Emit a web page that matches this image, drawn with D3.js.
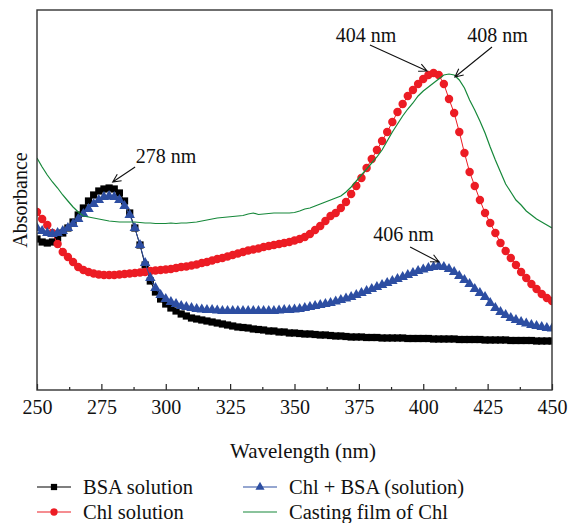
<!DOCTYPE html>
<html>
<head>
<meta charset="utf-8">
<script src="https://cdn.jsdelivr.net/npm/d3@7"></script>
<style>
  body { margin: 0; background: #fff; }
  text { font-family: "Liberation Serif", "DejaVu Serif", serif; fill: #111; }
</style>
</head>
<body>
<div id="chart"></div>
<script>
// wavelength grid, 2 nm steps
const wavelength = d3.range(250, 451, 2);

// absorbance (arbitrary units)
const bsa = [
  1.51, 1.48, 1.47, 1.48, 1.52, 1.57, 1.62, 1.68, 1.75, 1.82,
  1.89, 1.95, 1.99, 2.01, 2.02, 2.01, 1.97, 1.89, 1.77, 1.62,
  1.45, 1.25, 1.09, 0.98, 0.91, 0.86, 0.82, 0.79, 0.76, 0.74,
  0.72, 0.71, 0.70, 0.69, 0.68, 0.67, 0.66, 0.65, 0.64, 0.63,
  0.625, 0.62, 0.61, 0.605, 0.60, 0.59, 0.59, 0.58, 0.58, 0.57,
  0.57, 0.565, 0.56, 0.56, 0.555, 0.55, 0.55, 0.545, 0.54, 0.54,
  0.535, 0.53, 0.53, 0.53, 0.525, 0.525, 0.525, 0.52, 0.52, 0.52,
  0.52, 0.52, 0.515, 0.515, 0.515, 0.515, 0.515, 0.51, 0.51, 0.51,
  0.51, 0.51, 0.505, 0.505, 0.505, 0.505, 0.505, 0.50, 0.50, 0.50,
  0.50, 0.50, 0.495, 0.495, 0.495, 0.495, 0.495, 0.49, 0.49, 0.49,
  0.49
];
const chl = [
  1.78, 1.71, 1.65, 1.57, 1.46, 1.38, 1.33, 1.28, 1.23, 1.20,
  1.18, 1.165, 1.155, 1.15, 1.15, 1.15, 1.155, 1.16, 1.165, 1.17,
  1.175, 1.18, 1.19, 1.195, 1.20, 1.205, 1.21, 1.22, 1.23, 1.235,
  1.245, 1.255, 1.27, 1.28, 1.295, 1.31, 1.32, 1.335, 1.35, 1.365,
  1.38, 1.395, 1.405, 1.415, 1.43, 1.44, 1.45, 1.46, 1.47, 1.48,
  1.495, 1.51, 1.53, 1.56, 1.60, 1.64, 1.69, 1.74, 1.77, 1.82,
  1.88, 1.96, 2.04, 2.12, 2.22, 2.31, 2.40, 2.49, 2.58, 2.68,
  2.78, 2.86, 2.94, 3.00, 3.06, 3.11, 3.15, 3.17, 3.15, 3.06,
  2.91, 2.77, 2.58, 2.37, 2.18, 2.04, 1.90, 1.77, 1.67, 1.57,
  1.47, 1.39, 1.32, 1.25, 1.18, 1.12, 1.06, 1.01, 0.96, 0.92,
  0.89
];
const chlBsa = [
  1.62, 1.59, 1.57, 1.56, 1.57, 1.59, 1.62, 1.66, 1.71, 1.76,
  1.81, 1.86, 1.90, 1.93, 1.94, 1.93, 1.90, 1.84, 1.75, 1.62,
  1.45, 1.27, 1.12, 1.02, 0.95, 0.91, 0.88, 0.86, 0.84, 0.83,
  0.82, 0.81, 0.805, 0.80, 0.80, 0.795, 0.79, 0.79, 0.79, 0.79,
  0.79, 0.79, 0.79, 0.79, 0.79, 0.79, 0.79, 0.795, 0.80, 0.80,
  0.805, 0.81, 0.82, 0.83, 0.84, 0.85, 0.86, 0.87, 0.885, 0.90,
  0.915, 0.93, 0.95, 0.97, 0.99, 1.01, 1.03, 1.05, 1.07, 1.09,
  1.11, 1.13, 1.15, 1.17, 1.19, 1.205, 1.22, 1.23, 1.24, 1.23,
  1.21, 1.18, 1.14, 1.10, 1.06, 1.01, 0.97, 0.93, 0.87, 0.82,
  0.78, 0.75, 0.72, 0.70, 0.68, 0.665, 0.65, 0.64, 0.63, 0.62,
  0.615
];
const film = [
  2.32, 2.23, 2.15, 2.08, 2.02, 1.95, 1.89, 1.83, 1.78, 1.74,
  1.73, 1.72, 1.71, 1.70, 1.69, 1.685, 1.68, 1.68, 1.68, 1.68,
  1.675, 1.67, 1.67, 1.665, 1.665, 1.665, 1.67, 1.665, 1.67, 1.67,
  1.675, 1.68, 1.69, 1.70, 1.71, 1.72, 1.725, 1.73, 1.735, 1.74,
  1.745, 1.76, 1.77, 1.755, 1.76, 1.765, 1.77, 1.77, 1.77, 1.77,
  1.775, 1.79, 1.81, 1.82, 1.84, 1.86, 1.88, 1.90, 1.92, 1.94,
  1.98, 2.03, 2.09, 2.15, 2.21, 2.27, 2.33, 2.40, 2.49, 2.58,
  2.66, 2.74, 2.81, 2.87, 2.94, 2.99, 3.03, 3.07, 3.11, 3.15,
  3.16, 3.15, 3.10, 3.02, 2.90, 2.80, 2.69, 2.57, 2.43, 2.30,
  2.18, 2.06, 1.98, 1.90, 1.85, 1.79, 1.75, 1.71, 1.68, 1.65,
  1.62
];

const xTicks = [250, 275, 300, 325, 350, 375, 400, 425, 450];
const xMinorTicks = [262.5, 287.5, 312.5, 337.5, 362.5, 387.5, 412.5, 437.5];

// peak annotations: text position and arrow (tail -> tip), in data units
const peakLabels = ['278 nm', '404 nm', '408 nm', '406 nm'];
const peakText = [[300.1, 2.27], [377.8, 3.48], [428.8, 3.48], [392.3, 1.49]];
const peakArrowFrom = [[288.1, 2.23], [379.3, 3.45], [426.7, 3.43], [394.9, 1.43]];
const peakArrowTo = [[279.4, 2.08], [401.5, 3.19], [412.3, 3.13], [406.1, 1.28]];

const width = 569, height = 523,
    margin = {left: 37, top: 10, right: 17, bottom: 133},
    plotWidth = width - margin.left - margin.right,
    plotHeight = height - margin.top - margin.bottom;

const series = [
  {name: 'BSA solution', values: bsa, color: '#000000', marker: 'square'},
  {name: 'Chl solution', values: chl, color: '#ec1c24', marker: 'circle'},
  {name: 'Chl + BSA (solution)', values: chlBsa, color: '#2d4ea2', marker: 'triangle'},
  {name: 'Casting film of Chl', values: film, color: '#16883a', marker: null}
];

const svg = d3.select('#chart').append('svg')
    .attr('width', width)
    .attr('height', height);

const g = svg.append('g')
    .attr('transform', `translate(${margin.left}, ${margin.top})`);

const x = d3.scaleLinear().domain([250, 450]).range([0, plotWidth]);
const y = d3.scaleLinear().domain([0, 3.8]).range([plotHeight, 0]);

g.append('clipPath').attr('id', 'clip')
    .append('rect')
    .attr('width', plotWidth)
    .attr('height', plotHeight);

const plot = g.append('g').attr('clip-path', 'url(#clip)');

const line = d3.line()
    .x((d, i) => x(wavelength[i]))
    .y(d => y(d));

const symbolType = {
  square: d3.symbolSquare,
  circle: d3.symbolCircle,
  triangle: d3.symbolTriangle
};
const symbolSize = {square: 52, circle: 56, triangle: 48};

series.forEach(s => {
  const sg = plot.append('g');
  sg.append('path')
      .datum(s.values)
      .attr('fill', 'none')
      .attr('stroke', s.color)
      .attr('stroke-width', s.marker ? 1 : 1.2)
      .attr('d', line);

  if (s.marker) {
    const sym = d3.symbol().type(symbolType[s.marker]).size(symbolSize[s.marker]);
    sg.selectAll('path.pt')
        .data(s.values)
        .join('path')
        .attr('class', 'pt')
        .attr('transform', (d, i) => `translate(${x(wavelength[i])}, ${y(d)})`)
        .attr('fill', s.color)
        .attr('d', sym());
  }
});

// axis ticks point inward
const xAxis = g.append('g')
    .attr('transform', `translate(0, ${plotHeight})`)
    .call(d3.axisBottom(x).tickValues(xTicks).tickSize(-6).tickPadding(10).tickFormat(d3.format('d')));
xAxis.select('.domain').remove();
xAxis.selectAll('line').attr('stroke', '#222').attr('stroke-width', 1.2);
xAxis.selectAll('text')
    .style('font-family', '"Liberation Serif", serif')
    .style('font-size', '20px')
    .attr('fill', '#111');

const xMinor = g.append('g')
    .attr('transform', `translate(0, ${plotHeight})`)
    .call(d3.axisBottom(x).tickValues(xMinorTicks).tickSize(-3).tickFormat(''));
xMinor.select('.domain').remove();
xMinor.selectAll('line').attr('stroke', '#222').attr('stroke-width', 1.2);

g.append('rect')
    .attr('width', plotWidth)
    .attr('height', plotHeight)
    .attr('fill', 'none')
    .attr('stroke', '#333')
    .attr('stroke-width', 1.4);

// peak annotations
peakLabels.forEach((label, i) => {
  g.append('text')
      .attr('x', x(peakText[i][0]))
      .attr('y', y(peakText[i][1]))
      .attr('text-anchor', 'middle')
      .style('font-size', '20px')
      .text(label);

  const x1 = x(peakArrowFrom[i][0]), y1 = y(peakArrowFrom[i][1]),
      x2 = x(peakArrowTo[i][0]), y2 = y(peakArrowTo[i][1]);
  const ang = Math.atan2(y2 - y1, x2 - x1),
      headLen = 9, spread = 0.45;
  const head = [ang + Math.PI - spread, ang + Math.PI + spread]
      .map(a => [x2 + headLen * Math.cos(a), y2 + headLen * Math.sin(a)]);

  g.append('path')
      .attr('d', `M${x1},${y1}L${x2},${y2}M${head[0][0]},${head[0][1]}L${x2},${y2}L${head[1][0]},${head[1][1]}`)
      .attr('fill', 'none')
      .attr('stroke', '#111')
      .attr('stroke-width', 1.1);
});

// axis titles
svg.append('text')
    .attr('x', 303)
    .attr('y', 458)
    .attr('text-anchor', 'middle')
    .style('font-size', '21px')
    .text('Wavelength (nm)');

svg.append('text')
    .attr('transform', `translate(27, ${margin.top + plotHeight / 2}) rotate(-90)`)
    .attr('text-anchor', 'middle')
    .style('font-size', '20px')
    .text('Absorbance');

// legend, two columns
const legendPos = [[37, 487], [37, 512], [243, 487], [243, 512]];
const legendOrder = [0, 1, 2, 3];

legendOrder.forEach((si, k) => {
  const s = series[si];
  const [lx, ly] = legendPos[k];
  const lg = svg.append('g').attr('transform', `translate(${lx}, ${ly})`);
  lg.append('line')
      .attr('x1', 0).attr('x2', 34)
      .attr('stroke', s.color)
      .attr('stroke-width', 1.2);
  if (s.marker) {
    lg.append('path')
        .attr('transform', 'translate(17, 0)')
        .attr('fill', s.color)
        .attr('d', d3.symbol().type(symbolType[s.marker]).size(symbolSize[s.marker] * 0.75)());
  }
  lg.append('text')
      .attr('x', 46)
      .attr('y', 0)
      .attr('dy', '0.33em')
      .style('font-size', '20.5px')
      .text(s.name);
});
</script>
</body>
</html>
